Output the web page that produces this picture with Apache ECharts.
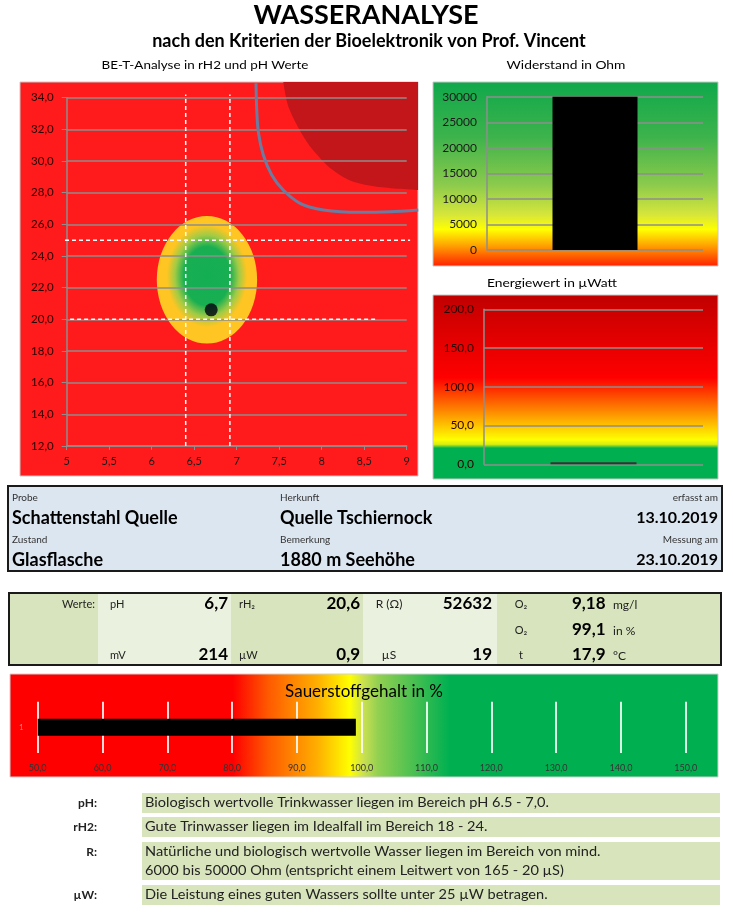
<!DOCTYPE html>
<html><head><meta charset="utf-8">
<script src="https://cdn.jsdelivr.net/npm/echarts@6/dist/echarts.min.js"></script>
<style>html,body{margin:0;padding:0;background:#fff}#c{width:733px;height:916px}</style>
</head><body><div id="c"></div>
<script>
const FONT = 'Lato, "Open Sans", sans-serif';

// ---- BE-T-A chart (pH / rH2) ----
const phMin = 5, phMax = 9, phStep = 0.5;
const rh2Min = 12, rh2Max = 34, rh2Step = 2;
const samplePH = [6.7];
const sampleRH2 = [20.6];
const idealZone = [6.65, 22.5, 0.59, 4.03]; // centre pH, centre rH2, half-width pH, half-height rH2
const phGuides = [6.4, 6.92];
const phGuideFrom = [12, 12];
const phGuideTo = [34.2, 34.2];
const rh2Guides = [25, 20];
const rh2GuideFrom = [4.98, 5.04];
const rh2GuideTo = [9.04, 8.66];
const boundaryPH  = [7.227, 7.235, 7.254, 7.313, 7.412, 7.548, 7.745, 8.019, 8.451, 8.804, 9.136];
const boundaryRH2 = [34.91, 33.33, 31.85, 30.38, 29.12, 28.17, 27.33, 26.91, 26.76, 26.80, 26.91];
const darkPH  = [7.548, 7.615, 7.824, 8.059, 8.215, 8.372, 8.647, 9.136];
const darkRH2 = [34.99, 33.33, 31.22, 29.75, 29.12, 28.69, 28.38, 28.17];

// ---- Widerstand / Energie / Sauerstoff ----
const resistanceCats = ['R (Ω)'];
const resistanceVals = [52632];
const resistanceMax = 30000, resistanceStep = 5000;
const energyCats = ['µW'];
const energyVals = [0.9];
const energyMax = 200, energyStep = 50;
const oxygenCats = ['1'];
const oxygenVals = [99.1];
const oxygenMin = 50, oxygenMax = 150, oxygenStep = 10;

// ---- Text blocks ----
const infoLabels = ['Probe', 'Herkunft', 'erfasst am', 'Zustand', 'Bemerkung', 'Messung am'];
const infoValues = ['Schattenstahl Quelle', 'Quelle Tschiernock', '13.10.2019', 'Glasflasche', '1880 m Seehöhe', '23.10.2019'];
const tableRow1 = [['pH', '6,7'], ['rH₂', '20,6'], ['R (Ω)', '52632'], ['O₂', '9,18', 'mg/l']];
const tableRow2 = [null, null, null, ['O₂', '99,1', 'in %']];
const tableRow3 = [['mV', '214'], ['µW', '0,9'], ['µS', '19'], ['t', '17,9', '°C']];
const noteLabels = ['pH:', 'rH2:', 'R:', 'µW:'];
const noteTexts = [
  'Biologisch wertvolle Trinkwasser liegen im Bereich pH 6.5 - 7,0.',
  'Gute Trinwasser liegen im Idealfall im Bereich 18 - 24.',
  'Natürliche und biologisch wertvolle Wasser liegen im Bereich von mind.\n6000 bis 50000 Ohm (entspricht einem Leitwert von 165 - 20 µS)',
  'Die Leistung eines guten Wassers sollte unter 25 µW betragen.'
];

const comma = (v, d) => (d === undefined ? String(v) : v.toFixed(d)).replace('.', ',');
const G = echarts.graphic;

function txt(x, y, text, size, o) {
  o = o || {};
  return { type: 'text', x: x, y: y, z: 20, silent: true, scaleX: o.sx || 1, scaleY: 1,
    style: { text: text, fill: o.color || '#000', align: o.align || 'left', verticalAlign: 'middle',
      font: (o.weight || 'normal') + ' ' + size + 'px ' + FONT, lineHeight: o.lh || size * 1.4 } };
}
function rect(x, y, w, h, fill, stroke, lw) {
  return { type: 'rect', z: -10, silent: true, shape: { x: x, y: y, width: w, height: h },
    style: { fill: fill, stroke: stroke || null, lineWidth: lw || 0 } };
}

const graphics = [];
// headings
graphics.push(txt(366, 15, 'WASSERANALYSE', 27, { weight: 'bold', align: 'center' }));
graphics.push(txt(369, 41, 'nach den Kriterien der Bioelektronik von Prof. Vincent', 18, { weight: 'bold', align: 'center' }));
graphics.push(txt(205, 65, 'BE-T-Analyse in rH2 und pH Werte', 12, { align: 'center', sx: 1.12 }));
graphics.push(txt(566, 65, 'Widerstand in Ohm', 12, { align: 'center', sx: 1.15 }));
graphics.push(txt(552, 283, 'Energiewert in µWatt', 12, { align: 'center', sx: 1.15 }));
// chart backgrounds
graphics.push(rect(20, 82, 398, 394, '#FF1B1B', '#C8C8C8', 1));
graphics.push(rect(433, 82, 285, 184, new G.LinearGradient(0, 0, 0, 1, [
  { offset: 0, color: '#0FA84B' }, { offset: 0.3, color: '#3DB34B' }, { offset: 0.56, color: '#8CCB4C' },
  { offset: 0.72, color: '#D6E63A' }, { offset: 0.8, color: '#FFFF00' }, { offset: 0.88, color: '#FFAA00' },
  { offset: 1, color: '#FF1E00' }]), '#C8C8C8', 1));
graphics.push(rect(433, 295, 285, 184, new G.LinearGradient(0, 0, 0, 1, [
  { offset: 0, color: '#C00000' }, { offset: 0.22, color: '#E00000' }, { offset: 0.45, color: '#FF0000' },
  { offset: 0.62, color: '#FF8000' }, { offset: 0.785, color: '#FFFF00' }, { offset: 0.81, color: '#D8EE10' },
  { offset: 0.83, color: '#00B050' }, { offset: 1, color: '#00B050' }]), '#C8C8C8', 1));
graphics.push(rect(10, 674, 708, 103, new G.LinearGradient(0, 0, 1, 0, [
  { offset: 0, color: '#FF0000' }, { offset: 0.315, color: '#FF0000' }, { offset: 0.365, color: '#FF5A00' },
  { offset: 0.435, color: '#FFB000' }, { offset: 0.48, color: '#FFFF00' }, { offset: 0.5, color: '#C8E050' },
  { offset: 0.52, color: '#92D050' }, { offset: 0.62, color: '#00B050' }, { offset: 1, color: '#00B050' }]), '#D0D0D0', 1));
graphics.push(txt(364, 692, 'Sauerstoffgehalt in %', 17, { align: 'center' }));

// info box 1
graphics.push(rect(8, 486, 714, 85, '#DCE6F1', '#1A1A1A', 2));
const infoX = [12, 280, 718];
const infoAlign = ['left', 'left', 'right'];
const infoSize = [18, 18, 16];
infoLabels.forEach((l, i) => {
  const col = i % 3, row = Math.floor(i / 3);
  graphics.push(txt(infoX[col], 498 + row * 42, l, 10, { align: infoAlign[col], color: '#333' }));
  graphics.push(txt(infoX[col], 518 + row * 42, infoValues[i], infoSize[col], { align: infoAlign[col], weight: 'bold' }));
});

// info box 2 (values table)
const colEdges = [9, 98, 231, 363, 497, 721];
const colFill = ['#D7E4BD', '#EBF1DF', '#D7E4BD', '#EBF1DF', '#D7E4BD'];
for (let i = 0; i < 5; i++) graphics.push(rect(colEdges[i], 593, colEdges[i + 1] - colEdges[i], 72, colFill[i]));
graphics.push({ type: 'rect', z: 5, silent: true, shape: { x: 9, y: 593, width: 712, height: 72 }, style: { fill: null, stroke: '#1A1A1A', lineWidth: 2 } });
graphics.push(txt(95, 604, 'Werte:', 11, { align: 'right', color: '#222' }));
const rowsY = [604, 630, 655];
[tableRow1, tableRow2, tableRow3].forEach((row, r) => {
  row.forEach((cell, c) => {
    if (!cell) return;
    const y = rowsY[r];
    if (c === 0) { graphics.push(txt(110, y, cell[0], 11, { color: '#222' })); graphics.push(txt(228, y, cell[1], 17, { align: 'right', weight: 'bold' })); }
    if (c === 1) { graphics.push(txt(239, y, cell[0], 11, { color: '#222' })); graphics.push(txt(360, y, cell[1], 17, { align: 'right', weight: 'bold' })); }
    if (c === 2) { graphics.push(txt(389, y, cell[0], 12, { align: 'center', color: '#222' })); graphics.push(txt(492, y, cell[1], 17, { align: 'right', weight: 'bold' })); }
    if (c === 3) { graphics.push(txt(521, y, cell[0], 11, { align: 'center', color: '#222' })); graphics.push(txt(572, y, cell[1], 17, { weight: 'bold' })); graphics.push(txt(613, y + 1, cell[2], 12, { color: '#222' })); }
  });
});

// notes
const noteBoxY = [793, 817, 842, 885];
const noteBoxH = [20, 20, 38, 20];
noteLabels.forEach((l, i) => {
  graphics.push(rect(142, noteBoxY[i], 578, noteBoxH[i], '#D8E4BC'));
  graphics.push(txt(97, noteBoxY[i] + 10, l, 12, { align: 'right', weight: 'bold', color: '#222' }));
  const lines = noteTexts[i].split('\n');
  lines.forEach((ln, k) => graphics.push(txt(145, noteBoxY[i] + 10 + k * 19, ln, 13, { color: '#222', sx: 1.12 })));
});

const gridColor = '#8E8E8E';
const axisLbl = (size, extra) => Object.assign({ fontFamily: FONT, fontSize: size, color: '#1A1A1A' }, extra || {});

const option = {
  animation: false,
  graphic: graphics,
  grid: [
    { left: 66.7, top: 97.7, width: 340, height: 348.3 },   // 0 main axes
    { left: 20, top: 82, width: 398, height: 394 },         // 1 overlay (same scale)
    { left: 487, top: 96.7, width: 216, height: 153.3 },    // 2 resistance
    { left: 484, top: 309.3, width: 219, height: 155 },     // 3 energy
    { left: 37.7, top: 701.7, width: 648, height: 51.3 }    // 4 oxygen
  ],
  xAxis: [
    { gridIndex: 0, type: 'value', min: phMin, max: phMax, interval: phStep, z: 3,
      axisLine: { show: true, lineStyle: { color: gridColor, width: 1.5 } },
      axisTick: { show: true, length: 4, lineStyle: { color: gridColor } },
      splitLine: { show: false },
      axisLabel: axisLbl(11, { margin: 10, formatter: v => comma(v) }) },
    { gridIndex: 1, type: 'value', min: 4.4506, max: 9.1329, show: false },
    { gridIndex: 2, type: 'category', data: resistanceCats, show: false },
    { gridIndex: 3, type: 'category', data: energyCats, show: false },
    { gridIndex: 4, type: 'value', min: oxygenMin, max: oxygenMax, interval: oxygenStep,
      axisLine: { show: false }, axisTick: { show: false },
      splitLine: { show: true, lineStyle: { color: '#FFFFFF', width: 2, opacity: 0.85 } },
      axisLabel: axisLbl(9, { margin: 11, color: '#333', formatter: v => comma(v, 1) }) }
  ],
  yAxis: [
    { gridIndex: 0, type: 'value', min: rh2Min, max: rh2Max, interval: rh2Step, z: 3,
      axisLine: { show: true, lineStyle: { color: gridColor, width: 1.5 } },
      axisTick: { show: true, length: 5, lineStyle: { color: gridColor } },
      splitLine: { show: true, lineStyle: { color: gridColor, width: 1.5 } },
      axisLabel: axisLbl(11.5, { margin: 13, color: '#2A0000', formatter: v => comma(v, 1) }) },
    { gridIndex: 1, type: 'value', min: 10.1051, max: 34.991, show: false },
    { gridIndex: 2, type: 'value', min: 0, max: resistanceMax, interval: resistanceStep,
      axisLine: { show: true, lineStyle: { color: gridColor, width: 1.5 } }, axisTick: { show: false },
      splitLine: { show: true, lineStyle: { color: gridColor, width: 1.5 } },
      axisLabel: axisLbl(12, { margin: 10, formatter: v => String(v) }) },
    { gridIndex: 3, type: 'value', min: 0, max: energyMax, interval: energyStep,
      axisLine: { show: true, lineStyle: { color: gridColor, width: 1.5 } }, axisTick: { show: false },
      splitLine: { show: true, lineStyle: { color: gridColor, width: 1.5 } },
      axisLabel: axisLbl(12, { margin: 10, color: '#2A0000', formatter: v => comma(v, 1) }) },
    { gridIndex: 4, type: 'category', data: oxygenCats,
      axisLine: { show: false }, axisTick: { show: false },
      axisLabel: axisLbl(8, { margin: 14, color: '#A0A0A0' }) }
  ],
  series: [
    { type: 'line', xAxisIndex: 1, yAxisIndex: 1, z: 1, symbol: 'none', smooth: 0.3, silent: true,
      data: darkPH.map((p, i) => [p, darkRH2[i]]),
      lineStyle: { width: 0 }, areaStyle: { origin: 'end', color: '#C3161B', opacity: 1 } },
    { type: 'custom', xAxisIndex: 1, yAxisIndex: 1, z: 2, silent: true,
      data: [idealZone], encode: { x: 0, y: 1 },
      renderItem: function (params, api) {
        const cx = api.value(0), cy = api.value(1), rx = api.value(2), ry = api.value(3);
        const c = api.coord([cx, cy]);
        const ex = api.coord([cx + rx, cy]);
        const ey = api.coord([cx, cy + ry]);
        const r = ex[0] - c[0];
        const rpy = c[1] - ey[1];
        return { type: 'circle', x: c[0], y: c[1], scaleX: 1, scaleY: rpy / r,
          shape: { cx: 0, cy: 0, r: r },
          style: { fill: new G.RadialGradient(0.5, 0.47, 0.5, [
            { offset: 0, color: '#14AE52' }, { offset: 0.46, color: '#18AF52' },
            { offset: 0.64, color: '#A0CB46' }, { offset: 0.8, color: '#FFC522' }, { offset: 1, color: '#FFC522' }]) } };
      } },
    ...phGuides.map((p, i) => ({ type: 'line', xAxisIndex: 1, yAxisIndex: 1, z: 4, symbol: 'none', silent: true,
      data: [[p, phGuideFrom[i]], [p, phGuideTo[i]]],
      lineStyle: { color: '#FFFFFF', width: 1.5, type: [4, 3] } })),
    ...rh2Guides.map((v, i) => ({ type: 'line', xAxisIndex: 1, yAxisIndex: 1, z: 4, symbol: 'none', silent: true,
      data: [[rh2GuideFrom[i], v], [rh2GuideTo[i], v]],
      lineStyle: { color: '#FFFFFF', width: 1.5, type: [4, 3] } })),
    { type: 'line', xAxisIndex: 1, yAxisIndex: 1, z: 5, symbol: 'none', smooth: 0.3, silent: true,
      data: boundaryPH.map((p, i) => [p, boundaryRH2[i]]),
      lineStyle: { color: '#6C7BA0', width: 3 } },
    { type: 'scatter', xAxisIndex: 0, yAxisIndex: 0, z: 6, silent: true, symbolSize: 13,
      data: samplePH.map((p, i) => [p, sampleRH2[i]]), itemStyle: { color: '#000010' } },
    { type: 'bar', xAxisIndex: 2, yAxisIndex: 2, z: 4, barWidth: 85, clip: true, silent: true,
      data: resistanceVals, itemStyle: { color: '#000000' } },
    { type: 'bar', xAxisIndex: 3, yAxisIndex: 3, z: 4, barWidth: 86, barMinHeight: 2, silent: true,
      data: energyVals, itemStyle: { color: '#333333' } },
    { type: 'bar', xAxisIndex: 4, yAxisIndex: 4, z: 4, barWidth: 17, silent: true,
      data: oxygenVals, itemStyle: { color: '#000000' } }
  ]
};
const chart = echarts.init(document.getElementById('c'), null, { renderer: 'canvas' });
chart.setOption(option);
</script></body></html>
